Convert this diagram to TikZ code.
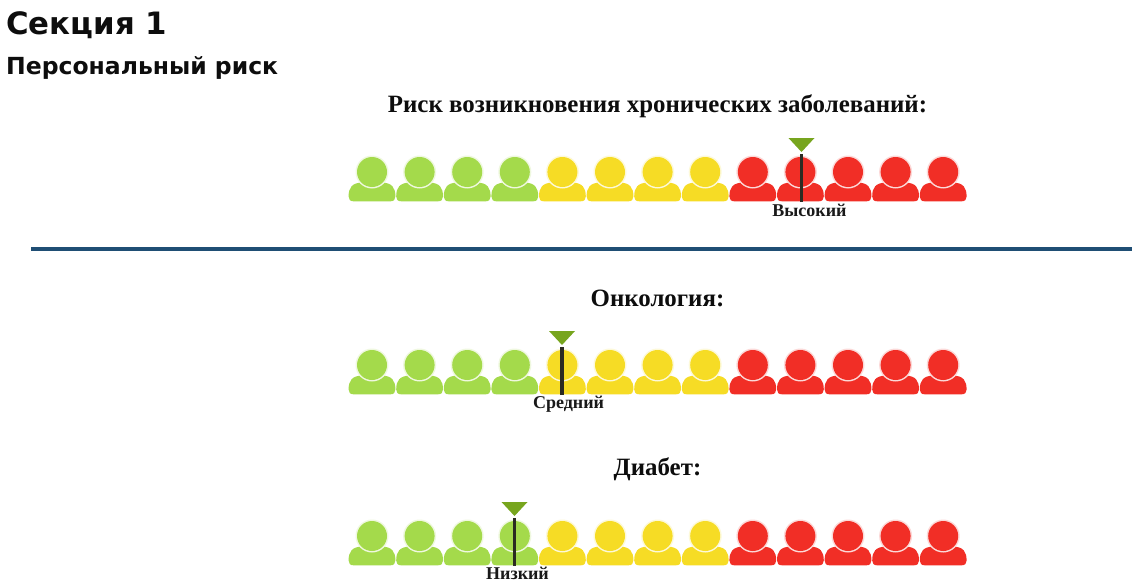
\documentclass[tikz,border=0pt]{standalone}
\usepackage{fontspec}
\setmainfont{Liberation Serif}
\newfontfamily\headfont{DejaVu Sans}
\definecolor{pgreen}{HTML}{A4DA4B}
\definecolor{pyellow}{HTML}{F6DC25}
\definecolor{pred}{HTML}{F12E26}
\definecolor{mgreen}{HTML}{77A51E}
\definecolor{mbar}{HTML}{2B2B22}
\definecolor{rule}{HTML}{1F4E74}
\tikzset{
  x=1pt,y=-1pt,
  pagetitle/.style={font=\headfont\bfseries\fontsize{30.8}{34}\selectfont,anchor=west,inner sep=0pt,text=black!95},
  subtitle/.style={font=\headfont\bfseries\fontsize{23.5}{27}\selectfont,anchor=west,inner sep=0pt,text=black!95},
  rowtitle/.style={font=\bfseries\fontsize{24.9}{28}\selectfont,inner sep=0pt,text=black!95},
  risklabel/.style={font=\bfseries\fontsize{18}{20}\selectfont,inner sep=0pt,text=black!90},
}
% #1 x, #2 y of head centre, #3 colour
\newcommand{\person}[3]{%
  \fill[#3] (#1-18.5,#2+29.3) -- (#1+18.5,#2+29.3) .. controls (#1+21.8,#2+29.3) and (#1+23.4,#2+27.5) .. (#1+23.4,#2+24.5) .. controls (#1+23.4,#2+15.5) and (#1+20,#2+11) .. (#1+10,#2+10.5) -- (#1-10,#2+10.5) .. controls (#1-20,#2+11) and (#1-23.4,#2+15.5) .. (#1-23.4,#2+24.5) .. controls (#1-23.4,#2+27.5) and (#1-21.8,#2+29.3) .. (#1-18.5,#2+29.3) -- cycle;
  \fill[#3!18!white] (#1,#2) circle (16.5);
  \fill[#3] (#1,#2) circle (15);
}
% #1 x, #2 top of the triangle
\newcommand{\marker}[2]{%
  \fill[mgreen] (#1-13,#2) -- (#1+13,#2) -- (#1,#2+14) -- cycle;
  \fill[mbar] (#1-1.9,#2+16) rectangle (#1+1.9,#2+64);
}
\newcommand{\personrow}[1]{%
  \foreach \i in {0,...,3} {\person{372+47.6*\i}{#1}{pgreen}}
  \foreach \i in {4,...,7} {\person{372+47.6*\i}{#1}{pyellow}}
  \foreach \i in {8,...,12} {\person{372+47.6*\i}{#1}{pred}}
}
\begin{document}
\begin{tikzpicture}
\useasboundingbox (0,0) rectangle (1132,586);
\fill[white] (0,0) rectangle (1132,586);
\node[pagetitle] (sec) at (6,25.5) {Секция 1};
\node[subtitle] (pers) at (6,67.5) {Персональный риск};
\node[rowtitle] (t1) at (657.5,106) {Риск возникновения хронических заболеваний:};
\personrow{172}
\marker{801.5}{138}
\node[risklabel] (l1) at (809.5,210) {Высокий};
\draw[rule,line width=4pt] (31,248.5) -- (1132,248.5);
\node[rowtitle] (t2) at (657.5,298) {Онкология:};
\personrow{365}
\marker{562}{331}
\node[risklabel] (l2) at (568.5,404.5) {Средний};
\node[rowtitle] (t3) at (657.5,469) {Диабет:};
\personrow{536}
\marker{514.5}{502}
\node[risklabel] (l3) at (517.5,573) {Низкий};
\end{tikzpicture}
\end{document}
